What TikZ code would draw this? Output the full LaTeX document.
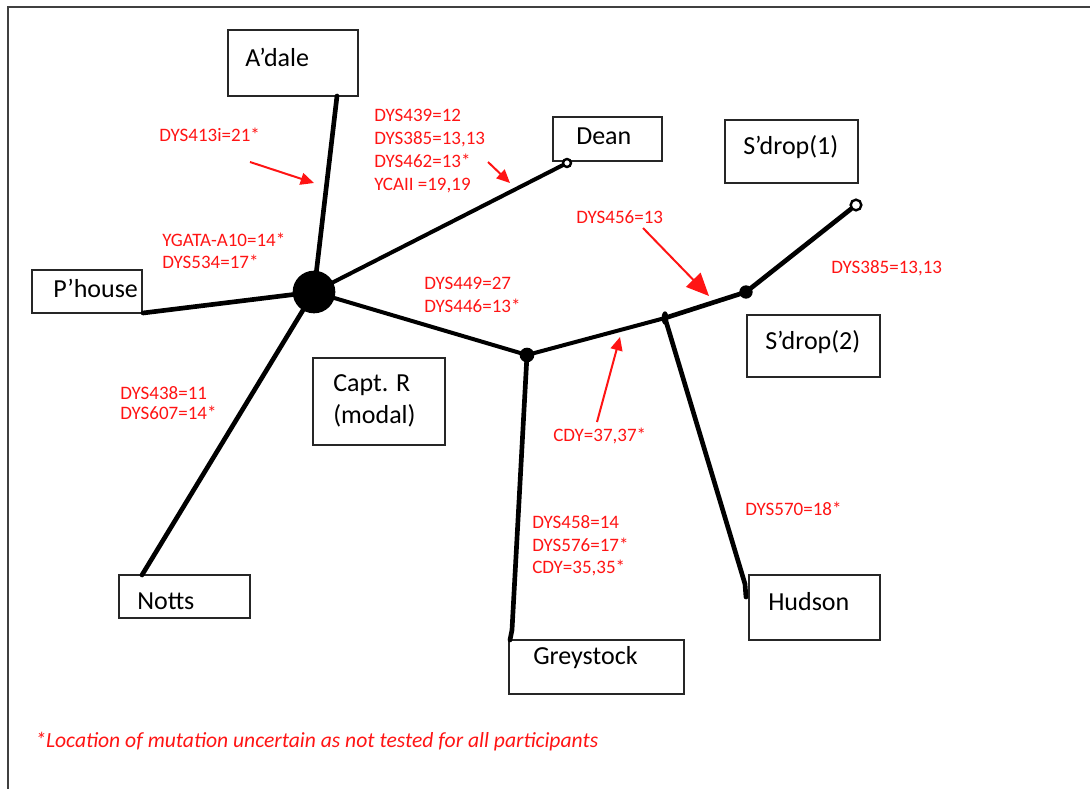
\documentclass[tikz,border=0pt]{standalone}
\usepackage{fontspec}
\setmainfont{Carlito}
\usetikzlibrary{arrows.meta,fit,shapes.geometric}
\definecolor{mred}{RGB}{255,20,20}
\begin{document}
\begin{tikzpicture}[x=0.75pt,y=-0.75pt,
  box/.style={draw=black!85, line width=1pt, inner sep=0pt},
  lbl/.style={anchor=west, inner sep=0pt, font=\fontsize{19.5}{24}\selectfont, text=black},
  mut/.style={anchor=west, inner sep=0pt, align=left, text=mred},
  branch/.style={line width=3.5pt, line cap=round, line join=round},
  junction/.style={circle, fill=black, inner sep=0pt},
  tipend/.style={circle, draw=black, fill=white, line width=1.8pt, inner sep=0pt},
  redarrow/.style={draw=mred, line width=1.5pt, -{Triangle[length=10pt,width=9pt]}},
]
\useasboundingbox (0,0) rectangle (1090,789);
\draw[black!75, line width=1.5pt] (7.5,789) -- (7.5,6.5) -- (1090,6.5);

% boxes
\node[box, fit={(228,30)(358,96)}] (adale) {};
\node[box, fit={(553,117)(662,161)}] (dean) {};
\node[box, fit={(725,120)(858,183)}] (sdropA) {};
\node[box, fit={(32,270)(142,313)}] (phouse) {};
\node[box, fit={(313,358)(445,445)}] (captr) {};
\node[box, fit={(747,315)(880,377)}] (sdropB) {};
\node[box, fit={(119,575)(250,618)}] (notts) {};
\node[box, fit={(509,640)(684,694)}] (greystock) {};
\node[box, fit={(749,575)(880,640)}] (hudson) {};

% box texts
\node[lbl] (adaleT) at (245,57) {A’dale};
\node[lbl] (deanT) at (576,136) {Dean};
\node[lbl] (sdropAT) at (743,147) {S’drop(1)};
\node[lbl] (phouseT) at (53,288) {P’house};
\node[lbl, align=left, font=\fontsize{19.5}{24}\selectfont] (captrT) at (333,401) {Capt. R\\(modal)};
\node[lbl] (sdropBT) at (765,342) {S’drop(2)};
\node[lbl] (nottsT) at (137,601) {Notts};
\node[lbl] (greystockT) at (533,658) {Greystock};
\node[lbl] (hudsonT) at (768,602) {Hudson};

% tree
\node[junction, minimum size=32pt] (hub) at (314,292) {};
\coordinate (adaleE) at (337,96);
\coordinate (phouseE) at (143,313);
\coordinate (nottsE) at (142,575);
\coordinate (greyK) at (512,630);
\coordinate (greyE) at (510,640);
\coordinate (hudK) at (745,584);
\coordinate (hudE) at (746,597);
\node[tipend, minimum size=6pt] (deanE) at (567,163) {};
\node[junction, minimum size=11pt] (jA) at (527,355) {};
\node[ellipse, fill=black, inner sep=0pt, minimum width=5pt, minimum height=10pt] (jB) at (665,318) {};
\node[junction, minimum size=10pt] (jC) at (746,292) {};
\node[tipend, minimum size=8pt] (sdropE) at (856,205) {};

\draw[branch] (hub.center) -- (adaleE);
\draw[branch] (hub.center) -- (phouseE);
\draw[branch] (hub.center) -- (nottsE);
\draw[branch, line width=3pt] (hub.center) -- (deanE);
\draw[branch, line width=3pt] (hub.center) -- (jA.center);
\draw[branch] (jA.center) -- (greyK) -- (greyE);
\draw[branch, line width=3pt] (jA.center) -- (jB.center);
\draw[branch] (jB.center) -- (jC.center);
\draw[branch] (jB.center) -- (hudK) -- (hudE);
\draw[branch] (jC.center) -- (sdropE);

% red arrows
\coordinate (a1s) at (250,162);
\coordinate (a1e) at (314,183);
\coordinate (a2s) at (488,162);
\coordinate (a2e) at (510,183);
\coordinate (a3s) at (643,228);
\coordinate (a3e) at (709,296);
\coordinate (a4s) at (597,422);
\coordinate (a4e) at (620,337);
\draw[redarrow] (a1s) -- (a1e);
\draw[redarrow] (a2s) -- (a2e);
\draw[redarrow, -{Triangle[length=17pt,width=15pt]}] (a3s) -- (a3e);
\draw[redarrow] (a4s) -- (a4e);

% mutation labels
\node[mut, font=\fontsize{14.25}{17}\selectfont] (m1) at (159,135) {DYS413i=21*};
\node[mut, font=\fontsize{14.25}{17.25}\selectfont] (m2) at (374,151) {DYS439=12\\DYS385=13,13\\DYS462=13*\\YCAII =19,19};
\node[mut, font=\fontsize{14.25}{16.5}\selectfont] (m3) at (162,251) {YGATA-A10=14*\\DYS534=17*};
\node[mut, font=\fontsize{14.25}{17.25}\selectfont] (m4) at (424,295) {DYS449=27\\DYS446=13*};
\node[mut, font=\fontsize{14.25}{17}\selectfont] (m5) at (576,217) {DYS456=13};
\node[mut, font=\fontsize{14.25}{17}\selectfont] (m6) at (831,268) {DYS385=13,13};
\node[mut, font=\fontsize{14.25}{15}\selectfont] (m7) at (120,403) {DYS438=11\\DYS607=14*};
\node[mut, font=\fontsize{14.25}{17}\selectfont] (m8) at (553,436) {CDY=37,37*};
\node[mut, font=\fontsize{14.25}{16.9}\selectfont] (m9) at (532,546) {DYS458=14\\DYS576=17*\\CDY=35,35*};
\node[mut, font=\fontsize{14.25}{17}\selectfont] (m10) at (745,509) {DYS570=18*};
\node[mut, font=\fontsize{16.2}{19}\selectfont\itshape] (note) at (35,742) {*Location of mutation uncertain as not tested for all participants};
\end{tikzpicture}
\end{document}
